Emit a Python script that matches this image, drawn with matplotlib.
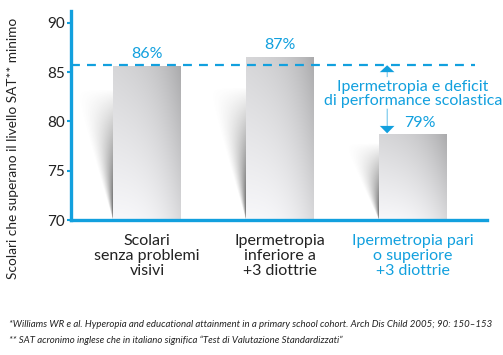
import numpy as np
import matplotlib.pyplot as plt
from matplotlib.patches import Polygon, FancyArrow

plt.rcParams["font.family"] = ["Lato", "DejaVu Sans"]

categories = ["Scolari\nsenza problemi\nvisivi",
              "Ipermetropia\ninferiore a\n+3 diottrie",
              "Ipermetropia pari\no superiore\n+3 diottrie"]
heights = [85.6, 86.5, 78.7]
labels = ["86%", "87%", "79%"]
ref_level = 85.7
yticks = [70, 75, 80, 85, 90]

BLUE = "#12a0de"
INK = "#222222"

fig = plt.figure(figsize=(5.03, 3.55), dpi=100)
ax = fig.add_axes([0.141, 0.380, 0.827, 0.589])

w = 0.51
# bar body gradient: light bottom-left, darker top-right
gx, gy = np.meshgrid(np.linspace(0, 1, 60), np.linspace(0, 1, 80))
shade = 0.97 - 0.13 * gy - 0.12 * gx ** 3 - 0.05 * gx * gy
body = np.dstack([shade, shade, shade * 1.01, np.ones_like(shade)]).clip(0, 1)

# soft triangular shadow to the left of each bar
sx, sy = np.meshgrid(np.linspace(0, 1, 150), np.linspace(0, 1, 150))
shadow_top = [83.2, 83.4, 77.8]
shadow_w = [0.29, 0.29, 0.27]
for i, h in enumerate(heights):
    left = i - w / 2
    top = shadow_top[i]
    sw = shadow_w[i]
    poly = [(left - sw, top), (left, top), (left, 70)]
    frac = sy
    width = sw * frac + 1e-6
    d = (1 - sx) * sw
    a = np.clip(1 - d / width, 0, 1) ** 1.3 * np.clip(1 - frac, 0, 1) ** 0.9
    img = np.zeros((150, 150, 4))
    img[..., :3] = 0.36
    img[..., 3] = a
    im = ax.imshow(img, extent=(left - sw, left, 70, top), origin="lower",
                   aspect="auto", zorder=1, interpolation="bilinear")
    im.set_clip_path(Polygon(poly, closed=True, transform=ax.transData))

for i, h in enumerate(heights):
    left = i - w / 2
    ax.imshow(body, extent=(left, left + w, 70, h), origin="lower",
              aspect="auto", zorder=2, interpolation="bilinear")

ax.set_xlim(-0.571, 2.556)
ax.set_ylim(70, 91.2)

# dashed reference line
ax.plot([-0.571, 2.47], [ref_level, ref_level], ls=(0, (4, 3.2)), color=BLUE,
        lw=1.6, zorder=3, clip_on=False)

offs = [(0, 0.55), (0, 0.55), (0.05, 0.45)]
for i, (h, lab) in enumerate(zip(heights, labels)):
    ax.text(i + offs[i][0], h + offs[i][1], lab, color=BLUE, fontsize=11.5,
            ha="center", va="bottom")

# annotation arrows and text
xa = 1.806
ax.add_patch(FancyArrow(xa, 84.5, 0, ref_level - 84.5, width=0.005,
                        head_width=0.11, head_length=0.7,
                        length_includes_head=True, color=BLUE, lw=0, zorder=4))
ax.add_patch(FancyArrow(xa, 81.3, 0, heights[2] - 81.3 + 0.1, width=0.005,
                        head_width=0.11, head_length=0.75,
                        length_includes_head=True, color=BLUE, lw=0, zorder=4))
ax.text(2.0, 82.75, "Ipermetropia e deficit\ndi performance scolastica",
        color=BLUE, fontsize=11.5, ha="center", va="center", linespacing=1.0)

for s in ["top", "right"]:
    ax.spines[s].set_visible(False)
for s in ["left", "bottom"]:
    ax.spines[s].set_color(BLUE)
    ax.spines[s].set_linewidth(2.4)
ax.set_yticks(yticks)
ax.tick_params(axis="y", colors=BLUE, length=3, width=1.5, labelcolor=INK,
               labelsize=11, pad=1)
ax.set_xticks(range(3))
ax.set_xticklabels(categories, fontsize=11.5, linespacing=1.1)
ax.tick_params(axis="x", length=0, pad=10)
for i, t in enumerate(ax.get_xticklabels()):
    t.set_color(BLUE if i == 2 else INK)

fig.text(0.026, 0.583, "Scolari che superano il livello SAT** minimo",
         rotation=90, fontsize=9.8, ha="center", va="center", color=INK)

foot = dict(fontsize=6.9, style="italic", color=INK)
fig.text(0.018, 0.078, "*Williams WR e al. Hyperopia and educational attainment in a primary school cohort. "
         "Arch Dis Child 2005; 90: 150\u2013153", **foot)
fig.text(0.018, 0.035, "** SAT acronimo inglese che in italiano significa \u201cTest di Valutazione "
         "Standardizzati\u201d", **foot)

fig.savefig("out.png", dpi=100)
